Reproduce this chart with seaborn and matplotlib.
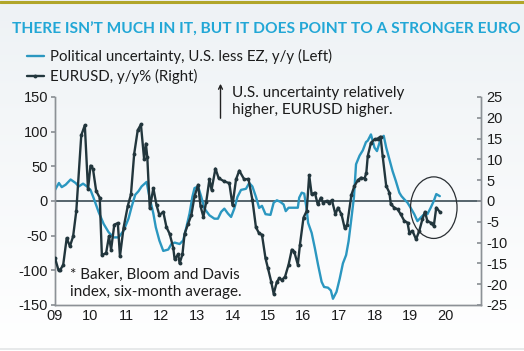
import numpy as np
import pandas as pd
import matplotlib
matplotlib.use("Agg")
import matplotlib.pyplot as plt
import seaborn as sns
from matplotlib.patches import Ellipse, FancyArrowPatch
from matplotlib.lines import Line2D
from matplotlib.colors import LinearSegmentedColormap

# ---------------- data ----------------
eur_x = [2009.00, 2009.10, 2009.15, 2009.23, 2009.33, 2009.42, 2009.51, 2009.60, 2009.74, 2009.84,
         2009.93, 2010.00, 2010.07, 2010.16, 2010.26, 2010.32, 2010.44, 2010.52, 2010.58, 2010.67,
         2010.77, 2010.83, 2010.93, 2011.05, 2011.14, 2011.23, 2011.33, 2011.42, 2011.51, 2011.56,
         2011.60, 2011.67, 2011.77, 2011.86, 2011.94, 2012.05, 2012.14, 2012.23, 2012.33, 2012.37,
         2012.47, 2012.51, 2012.59, 2012.65, 2012.75, 2012.84, 2012.93, 2013.03, 2013.10, 2013.18,
         2013.26, 2013.35, 2013.41, 2013.52, 2013.61, 2013.77, 2013.91, 2014.00, 2014.10, 2014.19,
         2014.33, 2014.45, 2014.56, 2014.66, 2014.75, 2014.83, 2014.93, 2015.00, 2015.09, 2015.16,
         2015.25, 2015.32, 2015.39, 2015.48, 2015.58, 2015.67, 2015.74, 2015.84, 2015.90, 2016.00,
         2016.09, 2016.16, 2016.23, 2016.32, 2016.40, 2016.49, 2016.55, 2016.65, 2016.72, 2016.80,
         2016.90, 2016.97, 2017.07, 2017.16, 2017.23, 2017.35, 2017.43, 2017.53, 2017.62, 2017.72,
         2017.77, 2017.81, 2017.90, 2018.00, 2018.09, 2018.17, 2018.23, 2018.33, 2018.42, 2018.46,
         2018.56, 2018.65, 2018.74, 2018.84, 2018.93, 2018.98, 2019.07, 2019.17, 2019.26, 2019.35,
         2019.42, 2019.49, 2019.58, 2019.67, 2019.74, 2019.84]
eur_y = [-13.7, -16.7, -16.5, -15.4, -8.9, -10.9, -8.5, -2.4, 15.8, 18.2,
         2.8, 8.5, 7.7, 2.4, 0.8, -13.0, -12.5, -8.5, -11.7, -5.7,
         -5.3, -13.3, -6.5, -1.2, 1.6, 11.3, 17.0, 18.4, 10.1, 13.8,
         10.5, -1.8, 3.1, -1.0, -3.4, -2.6, -6.3, -7.9, -11.2, -14.0,
         -12.8, -15.0, -12.8, -7.9, -5.5, -3.4, 1.1, 3.9, -1.3, -3.8,
         -0.2, 5.2, 2.7, 7.8, 5.5, 4.7, 4.3, -1.0, 5.2, 7.3,
         5.2, 5.3, 0.3, -6.3, -7.8, -8.1, -13.8, -16.2, -19.4, -22.3,
         -19.4, -18.6, -19.0, -18.2, -15.3, -11.7, -12.2, -15.3, -10.5, -4.0,
         -2.4, 6.2, 1.6, 2.0, -0.8, 0.8, -0.4, 0.0, -0.4, 0.2,
         -3.2, -1.6, -3.2, -6.5, -5.7, 1.5, 3.5, 5.0, 5.6, 5.4,
         6.8, 10.8, 14.0, 14.8, 15.0, 15.5, 10.8, 3.6, 2.0, -0.8,
         -1.6, -2.0, -3.2, -4.8, -5.2, -7.6, -7.2, -9.2, -7.2, -4.4,
         -2.6, -4.8, -5.2, -6.0, -1.6, -2.6]

pol_x = [2009.00, 2009.11, 2009.19, 2009.30, 2009.44, 2009.58, 2009.67, 2009.79, 2009.90, 2010.00,
         2010.09, 2010.23, 2010.37, 2010.51, 2010.65, 2010.79, 2010.93, 2011.07, 2011.16, 2011.26,
         2011.35, 2011.44, 2011.58, 2011.66, 2011.77, 2011.84, 2011.94, 2012.05, 2012.19, 2012.28,
         2012.37, 2012.51, 2012.61, 2012.70, 2012.79, 2012.87, 2012.93, 2013.03, 2013.12, 2013.21,
         2013.35, 2013.49, 2013.59, 2013.68, 2013.77, 2013.87, 2013.96, 2014.05, 2014.14, 2014.24,
         2014.38, 2014.47, 2014.56, 2014.66, 2014.75, 2014.83, 2014.93, 2015.07, 2015.16, 2015.25,
         2015.34, 2015.44, 2015.50, 2015.58, 2015.72, 2015.84, 2015.88, 2015.95, 2016.02, 2016.09,
         2016.13, 2016.23, 2016.32, 2016.41, 2016.51, 2016.58, 2016.69, 2016.77, 2016.83, 2016.93,
         2017.02, 2017.11, 2017.20, 2017.27, 2017.34, 2017.42, 2017.48, 2017.58, 2017.67, 2017.76,
         2017.81, 2017.90, 2018.00, 2018.07, 2018.17, 2018.26, 2018.33, 2018.42, 2018.51, 2018.60,
         2018.70, 2018.76, 2018.84, 2018.93, 2019.02, 2019.12, 2019.21, 2019.30, 2019.40, 2019.49,
         2019.58, 2019.67, 2019.74, 2019.84]
pol_y = [16, 26, 20, 23.5, 31, 26, 21, 25, 21, 16,
         4, -16, -33, -45, -52.5, -52.5, -43, -25.5, -8, 9,
         14, 21, 27.5, 6, -18, -38, -57, -72, -70, -62,
         -60, -62, -57, -38, -18, 6, 18.6, 21, 6, -11,
         -20.6, -25.5, -25.5, -15.7, -11, -18, -23, -11, 6, 16,
         17.6, 26, 21, 6, -10, -7, -19, -20, -2.4, 1,
         -1, -5, -14.6, -9.7, -9.7, -9.7, 4.9, 12, 10.7, -12,
         -31.5, -46, -68, -92, -116.5, -124, -125, -129, -141, -131,
         -112, -90, -78, -58, -29, 5, 53, 65.5, 73, 85,
         87, 96, 77, 72, 89, 94, 77, 60, 43, 29,
         12, 7, 2.4, -2.4, -10, -19, -29, -24, -19, -19,
         -10, 0, 10, 7]

year_ticks = list(range(2009, 2021))
year_labels = ["09", "10", "11", "12", "13", "14", "15", "16", "17", "18", "19", "20"]
left_ticks = [-150, -100, -50, 0, 50, 100, 150]
right_ticks = [-25, -20, -15, -10, -5, 0, 5, 10, 15, 20, 25]

title = "THERE ISN\u2019T MUCH IN IT, BUT IT DOES POINT TO A STRONGER EURO"
legend_labels = ["Political uncertainty, U.S. less EZ, y/y (Left)", "EURUSD, y/y% (Right)"]
note_text = "* Baker, Bloom and Davis\nindex, six-month average."
arrow_text = "U.S. uncertainty relatively\nhigher, EURUSD higher."

# ---------------- style ----------------
sns.set_theme(style="white")
plt.rcParams["font.family"] = ["Lato", "DejaVu Sans"]

BLUE = "#2b97c0"
DARK = "#22363d"
TITLE_C = "#22a7d6"
SPINE = "#8c9196"
TXT = "#1c1c1c"

W, H = 524, 351
fig = plt.figure(figsize=(W / 100, H / 100), dpi=100)

# background gradient
bg = fig.add_axes([0, 0, 1, 1], zorder=-10)
cmap = LinearSegmentedColormap.from_list("bg", ["#ffffff", "#eef2f5"])
grad = np.linspace(0, 1, 256).reshape(-1, 1)
bg.imshow(grad, aspect="auto", cmap=cmap, origin="lower", extent=[0, 1, 0, 1], vmin=0, vmax=1)
bg.set_xlim(0, 1)
bg.set_ylim(0, 1)
bg.axis("off")
fig.add_artist(Line2D([0, 1], [1 - 1.5 / H, 1 - 1.5 / H], color="#b1a62a", lw=2.2, transform=fig.transFigure))
fig.add_artist(Line2D([0, 1], [1 - 348.5 / H, 1 - 348.5 / H], color="#e3e5e7", lw=1.2, transform=fig.transFigure))

ax = fig.add_axes([55 / W, 1 - 305 / H, (481 - 55) / W, (305 - 97) / H])
ax.patch.set_alpha(0)
ax2 = ax.twinx()

ax.axhline(0, color="#3a4a52", lw=1.2, zorder=1)

sns.lineplot(x=pol_x, y=pol_y, ax=ax, color=BLUE, lw=1.7, zorder=3)
sns.lineplot(x=eur_x, y=eur_y, ax=ax2, color=DARK, lw=1.7, marker="o", markersize=2.8,
             markeredgewidth=0, zorder=4)

ax.set_xlim(2009, 2021)
ax.set_ylim(-150, 150)
ax2.set_ylim(-25, 25)
ax.set_xticks(year_ticks)
ax.set_xticklabels(year_labels)
ax.set_yticks(left_ticks)
ax.set_yticklabels([str(v) for v in left_ticks])
ax2.set_yticks(right_ticks)
ax2.set_yticklabels([str(v) for v in right_ticks])

for a in (ax, ax2):
    a.set_xlabel("")
    a.set_ylabel("")
    a.grid(False)
    for s in a.spines.values():
        s.set_color(SPINE)
        s.set_linewidth(1.0)
    a.spines["top"].set_visible(False)

ax.tick_params(axis="x", direction="in", length=3, color=SPINE, labelsize=10.5, pad=3, labelcolor=TXT)
ax.tick_params(axis="y", direction="out", length=3, color=SPINE, labelsize=10.5, pad=2, labelcolor=TXT)
ax2.tick_params(axis="y", direction="in", length=3, color=SPINE, labelsize=10.5, pad=4, labelcolor=TXT)
for lab in ax.get_xticklabels() + ax.get_yticklabels() + ax2.get_yticklabels():
    lab.set_fontfamily(["Liberation Sans", "DejaVu Sans"])

# ellipse highlight (right-axis units)
ax2.add_patch(Ellipse((2019.67, -1.6), 1.31, 14.8, facecolor="none", edgecolor="#2a2f33", lw=0.9, zorder=5))

# title
fig.text(12 / W, 1 - 34 / H, title, color=TITLE_C, fontsize=11.2, fontweight="bold", va="baseline", ha="left")

# legend
handles = [Line2D([], [], color=BLUE, lw=1.7),
           Line2D([], [], color=DARK, lw=1.7, marker="o", markersize=2.8, markeredgewidth=0)]
fig.legend(handles, legend_labels, loc="upper left", bbox_to_anchor=(27 / W, 1 - 49 / H),
           frameon=False, fontsize=10.8, handlelength=1.1, handletextpad=0.45, labelspacing=0.35,
           borderaxespad=0, borderpad=0, labelcolor=TXT)

# arrow annotation
fig.add_artist(FancyArrowPatch((220.5 / W, 1 - 121 / H), (220.5 / W, 1 - 81 / H),
                               transform=fig.transFigure, arrowstyle="->",
                               mutation_scale=7, lw=1.0, color="#222222"))
fig.text(232 / W, 1 - 86 / H, arrow_text, fontsize=11, color=TXT, va="top", ha="left", linespacing=1.25)

fig.text(70 / W, 1 - 268 / H, note_text, fontsize=11, color=TXT, va="top", ha="left", linespacing=1.25)

fig.savefig("out.png", dpi=100)
